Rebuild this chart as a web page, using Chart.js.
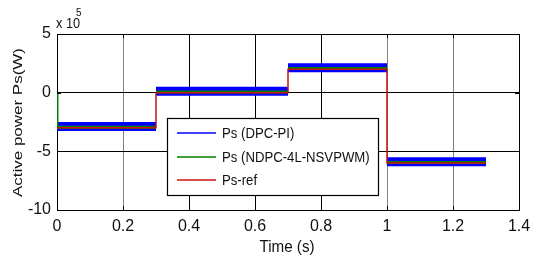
<!DOCTYPE html>
<html>
<head>
<meta charset="utf-8">
<script src="https://cdn.jsdelivr.net/npm/chart.js@4/dist/chart.umd.min.js"></script>
<style>
  html, body { margin: 0; padding: 0; background: #fff; }
  #wrap { width: 538px; height: 263px; position: relative; }
</style>
</head>
<body>
<div id="wrap"><canvas id="c" width="538" height="263"></canvas></div>
<script>
// ---- data (power in units of 1e5 W) ----
const stepTimes = [0, 0.3, 0.7, 1.0, 1.3];
const refLevels = [-3, 0, 2, -6];
const dpcLevels = [-2.88, 0.12, 2.12, -5.88];
const ndpcLevels = [-2.95, 0.05, 2.05, -5.95];
const xTicks = [0, 0.2, 0.4, 0.6, 0.8, 1, 1.2, 1.4];
const yTicks = [-10, -5, 0, 5];
const seriesNames = ['Ps (DPC-PI)', 'Ps (NDPC-4L-NSVPWM)', 'Ps-ref'];
const seriesColors = ['#0000ff', '#008000', '#cc1010'];
const grayXGrid = [0.2, 1, 1.2];

function stepBroken(levels, startY) {
  const pts = [];
  if (startY !== undefined) pts.push({x: stepTimes[0], y: startY});
  levels.forEach((v, i) => {
    pts.push({x: stepTimes[i], y: v}, {x: stepTimes[i + 1], y: v});
    if (i < levels.length - 1) pts.push({x: stepTimes[i + 1], y: null});
  });
  return pts;
}
function stepContinuous(levels) {
  const pts = [];
  levels.forEach((v, i) => pts.push({x: stepTimes[i], y: v}, {x: stepTimes[i + 1], y: v}));
  return pts;
}

const NARROW = '"Liberation Sans Narrow", "Liberation Sans", Arial, sans-serif';
const SANS = '"Liberation Sans", Arial, sans-serif';

function fitText(ctx, text, x, y, font, sx, align) {
  ctx.save();
  ctx.font = font;
  ctx.textAlign = align || 'left';
  ctx.translate(x, y);
  ctx.scale(sx, 1);
  ctx.fillText(text, 0, 0);
  ctx.restore();
}

const overlay = {
  id: 'overlay',
  afterDraw(chart) {
    const ctx = chart.ctx;
    const a = chart.chartArea;
    const xs = chart.scales.x, ys = chart.scales.y;
    ctx.save();
    // inner tick marks
    ctx.strokeStyle = '#000';
    ctx.lineWidth = 1;
    ctx.beginPath();
    xTicks.forEach(v => {
      const px = Math.round(xs.getPixelForValue(v)) + 0.5;
      ctx.moveTo(px, a.bottom); ctx.lineTo(px, a.bottom - 4);
      ctx.moveTo(px, a.top); ctx.lineTo(px, a.top + 4);
    });
    yTicks.forEach(v => {
      const py = Math.round(ys.getPixelForValue(v)) + 0.5;
      ctx.moveTo(a.left, py); ctx.lineTo(a.left + 4, py);
      ctx.moveTo(a.right, py); ctx.lineTo(a.right - 4, py);
    });
    ctx.stroke();

    // legend box
    const lx = 167.5, ly = 118.5, lw = 211, lh = 77;
    ctx.fillStyle = '#fff';
    ctx.fillRect(lx, ly, lw, lh);
    ctx.lineWidth = 1.2;
    ctx.strokeStyle = '#000';
    ctx.strokeRect(lx, ly, lw, lh);
    const rowsY = [133, 157, 180];
    seriesNames.forEach((name, i) => {
      ctx.strokeStyle = seriesColors[i];
      ctx.lineWidth = 1.5;
      ctx.beginPath();
      ctx.moveTo(177, rowsY[i]); ctx.lineTo(216, rowsY[i]);
      ctx.stroke();
      ctx.fillStyle = '#111';
      ctx.textBaseline = 'middle';
      fitText(ctx, name, 222, rowsY[i] + 1, '14px ' + SANS, 0.94, 'left');
    });

    // exponent label
    ctx.fillStyle = '#111';
    ctx.textBaseline = 'alphabetic';
    fitText(ctx, 'x 10', 56, 28, '15px ' + NARROW, 0.85, 'left');
    fitText(ctx, '5', 76, 16, '11px ' + NARROW, 0.9, 'left');

    // x title
    ctx.textBaseline = 'middle';
    fitText(ctx, 'Time (s)', 287, 248, '16px ' + NARROW, 0.95, 'center');

    // y title (rotated)
    ctx.save();
    ctx.translate(19, 122.5);
    ctx.rotate(-Math.PI / 2);
    ctx.font = '12.5px ' + SANS;
    const w0 = ctx.measureText('Active power Ps(W)').width;
    ctx.scale(149 / w0, 1);
    ctx.textAlign = 'center';
    ctx.textBaseline = 'middle';
    ctx.fillText('Active power Ps(W)', 0, 0);
    ctx.restore();
    ctx.restore();
  }
};

new Chart(document.getElementById('c'), {
  type: 'line',
  data: {
    datasets: [
      { label: seriesNames[0], data: stepBroken(dpcLevels), borderColor: seriesColors[0],
        borderWidth: 9, pointRadius: 0, spanGaps: false, order: 3 },
      { label: seriesNames[1], data: stepBroken(ndpcLevels, 0), borderColor: seriesColors[1],
        borderWidth: 3, pointRadius: 0, spanGaps: false, order: 2 },
      { label: seriesNames[2], data: stepContinuous(refLevels), borderColor: seriesColors[2],
        borderWidth: 1.5, pointRadius: 0, order: 1 }
    ]
  },
  options: {
    responsive: false,
    animation: false,
    parsing: true,
    layout: { padding: { left: 0, top: 34, right: 19, bottom: 0 } },
    plugins: { legend: { display: false }, tooltip: { enabled: false } },
    scales: {
      x: {
        type: 'linear', min: 0, max: 1.4,
        afterBuildTicks: s => { s.ticks = xTicks.map(v => ({value: v})); },
        afterFit: s => { s.height = 53; },
        border: { color: '#000', width: 1 },
        grid: {
          drawTicks: false,
          lineWidth: 1,
          color: c => grayXGrid.some(g => Math.abs(g - c.tick.value) < 1e-6) ? '#808080' : '#000'
        },
        ticks: {
          padding: 7, color: '#111', maxRotation: 0,
          font: { family: NARROW, size: 16 },
          callback: v => String(Number(v.toFixed(1)))
        }
      },
      y: {
        type: 'linear', min: -10, max: 5,
        afterBuildTicks: s => { s.ticks = yTicks.map(v => ({value: v})); },
        afterFit: s => { s.width = 57; },
        border: { color: '#000', width: 1 },
        grid: { drawTicks: false, lineWidth: 1, color: '#000' },
        ticks: {
          padding: 6, color: '#111',
          font: { family: NARROW, size: 16 },
          callback: v => String(v)
        }
      }
    }
  },
  plugins: [overlay]
});
</script>
</body>
</html>
